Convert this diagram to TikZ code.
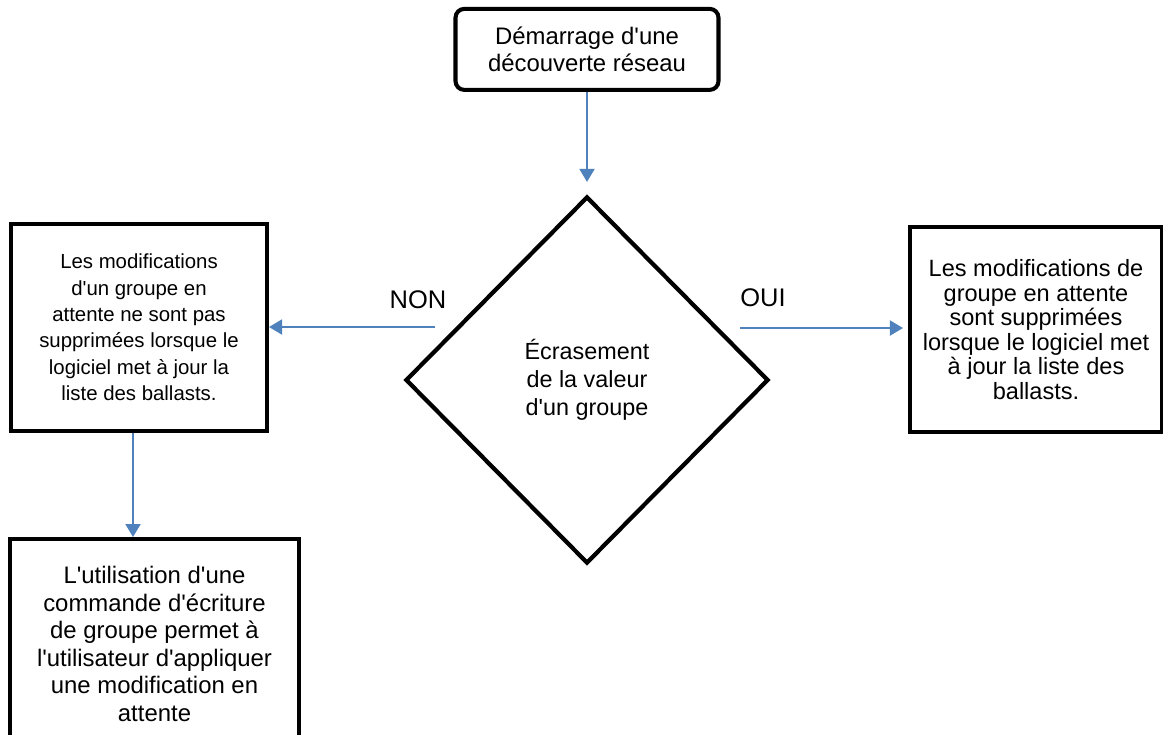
\documentclass[tikz,border=0pt]{standalone}
\usepackage{fontspec}
\setmainfont{Liberation Sans}[Ligatures=TeXOff]
\usetikzlibrary{arrows.meta,positioning,shapes.geometric}
\definecolor{flowblue}{RGB}{79,129,189}
\tikzset{
    scan diagram/.style = {>={Triangle[length=2.6mm, width=3mm]}},
    line/.style         = {flowblue, line width=1.1pt},
    block/.style        = {draw, line width=2.3pt, fill=white,
                           align=center, inner sep=0pt},
    startblock/.style   = {block, rounded corners=5pt,
                           minimum width=5.26cm, minimum height=1.62cm,
                           font=\fontsize{13.6}{15.1}\selectfont},
    noteblock/.style    = {block, font=\fontsize{13.4}{14}\selectfont},
    decision/.style     = {diamond, draw, line width=2.4pt, fill=white,
                           inner sep=0pt, align=center,
                           minimum width=7.26cm, minimum height=7.34cm,
                           font=\fontsize{13.3}{16}\selectfont},
    answer/.style       = {font=\fontsize{14.5}{17}\selectfont}
}

\begin{document}
\begin{tikzpicture}[scan diagram]

\clip (0,0) rectangle (23.26,-14.68);

% Decision in the middle, start above it
\node[decision] (overwrite) at (11.74,-7.60)
    {\'Ecrasement\\de la valeur\\d'un groupe};
\node[startblock, above=2.05cm of overwrite]
    (start) {D\'emarrage d'une\\d\'ecouverte r\'eseau};

% Outcome boxes on both sides
\node[noteblock, minimum width=5.12cm, minimum height=4.14cm,
      font=\fontsize{11.6}{15}\selectfont] (keep) at (2.78,-6.55)
    {Les modifications\\d'un groupe en\\attente ne sont pas\\supprim\'ees lorsque le\\logiciel met \`a jour la\\liste des ballasts.};
\node[noteblock, minimum width=5.04cm, minimum height=4.10cm] (drop) at (20.72,-6.59)
    {Les modifications de\\groupe en attente\\sont supprim\'ees\\lorsque le logiciel met\\\`a jour la liste des\\ballasts.};
\node[noteblock, minimum width=5.78cm, minimum height=4.20cm,
      font=\fontsize{13.6}{15.7}\selectfont,
      below=2.08cm of keep, xshift=0.31cm] (use)
    {L'utilisation d'une\\commande d'\'ecriture\\de groupe permet \`a\\l'utilisateur d'appliquer\\une modification en\\attente};

% Connectors
\draw[->, line, shorten >=0.25cm] (start.south) -- (start.south |- overwrite.north);

\coordinate (nonfrom) at (8.70,-6.54);
\draw[->, line] (nonfrom) -- (nonfrom -| keep.east);
\node[answer] (non) at (8.36,-6.00) {NON};

\coordinate (ouifrom) at (14.80,-6.56);
\draw[->, line, shorten >=0.1cm] (ouifrom) -- (ouifrom -| drop.west);
\node[answer] (oui) at (15.26,-5.96) {OUI};

\coordinate (downfrom) at ([xshift=-0.12cm]keep.south);
\draw[->, line] (downfrom) -- (downfrom |- use.north);

\end{tikzpicture}
\end{document}
